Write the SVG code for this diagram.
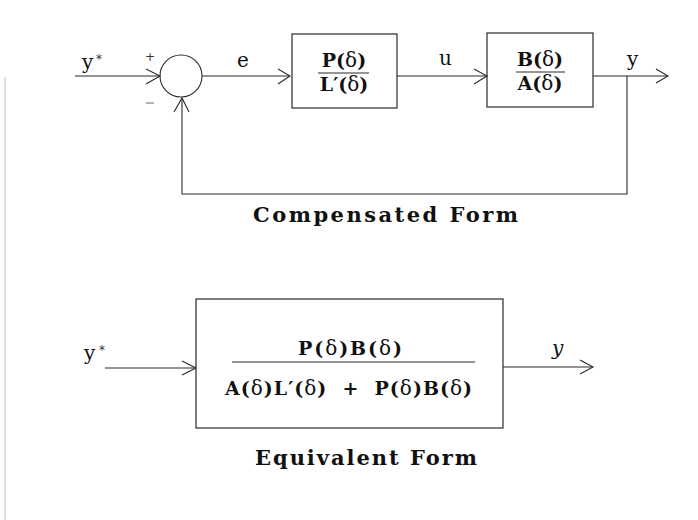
<svg xmlns="http://www.w3.org/2000/svg" width="698" height="520" viewBox="0 0 698 520">
<style>
.ln{fill:none;stroke:#2a2a2a;stroke-width:1.1}
.ah{fill:none;stroke:#2a2a2a;stroke-width:1.1;stroke-linejoin:miter}
.box{fill:none;stroke:#2a2a2a;stroke-width:1.2}
.m{font-family:"DejaVu Serif","Liberation Serif",serif;font-weight:bold;font-size:19px;fill:#111}
.d{font-weight:normal;font-size:20px}
.lab{font-family:"DejaVu Serif","Liberation Serif",serif;font-size:20px;fill:#111}
.cap{font-family:"DejaVu Serif","Liberation Serif",serif;font-weight:bold;font-size:21px;fill:#111}
.sm{font-family:"DejaVu Sans","Liberation Sans",sans-serif;font-size:12px;fill:#333}
</style>
<rect width="698" height="520" fill="#fff"/>
<line x1="5" y1="77" x2="5" y2="520" stroke="#c8c8c8" stroke-width="1.2"/>

<g id="connectors">
  <polyline class="ln" points="75,76 160,76"/>
  <polyline class="ah" points="146,69 160,76 146,84"/>
  <polyline class="ln" points="202,76 290,76"/>
  <polyline class="ah" points="278,69 290,76 278,84"/>
  <polyline class="ln" points="397,76 487,76"/>
  <polyline class="ah" points="474,69 487,76 474,84"/>
  <polyline class="ln" points="593,76 668,76"/>
  <polyline class="ah" points="656,69 668,76 656,83"/>
  <polyline class="ln" points="627,76 627,194 182,194 182,98"/>
  <polyline class="ah" points="174,112 182,98 189,112"/>
  <polyline class="ln" points="105,368 196,368"/>
  <polyline class="ah" points="182,361 196,368 182,375"/>
  <polyline class="ln" points="503,367 593,367"/>
  <polyline class="ah" points="580,360 593,367 580,374"/>
</g>

<g id="labels">
  <text class="lab" x="82" y="69">y</text>
  <text class="sm" x="96" y="63" font-size="14">*</text>
  <text class="sm" x="145" y="61">+</text>
  <line x1="146" y1="103" x2="154" y2="103" stroke="#666" stroke-width="1"/>
  <text class="lab" x="237" y="67">e</text>
  <text class="lab" x="439" y="65">u</text>
  <text class="lab" x="627" y="66">y</text>
  <text class="lab" x="84" y="360">y</text>
  <text class="sm" x="99" y="354" font-size="14">*</text>
  <text class="lab" x="552" y="355" font-style="italic">y</text>
</g>

<g id="sum">
  <circle cx="181" cy="76" r="21" class="ln"/>
</g>

<g id="controller">
  <rect class="box" x="292" y="34" width="105" height="74"/>
  <text class="m" x="344" y="67" text-anchor="middle">P(<tspan class="d">δ</tspan>)</text>
  <line class="ln" x1="318" y1="73" x2="369" y2="73"/>
  <text class="m" x="344" y="91" text-anchor="middle">L′(<tspan class="d">δ</tspan>)</text>
</g>

<g id="plant">
  <rect class="box" x="487" y="33" width="106" height="74"/>
  <text class="m" x="540" y="66" text-anchor="middle">B(<tspan class="d">δ</tspan>)</text>
  <line class="ln" x1="516" y1="72" x2="565" y2="72"/>
  <text class="m" x="540" y="90" text-anchor="middle">A(<tspan class="d">δ</tspan>)</text>
</g>

<text class="cap" x="253" y="222" textLength="265" lengthAdjust="spacing">Compensated Form</text>

<g id="equivalent">
  <rect class="box" x="196" y="299" width="307" height="129"/>
  <text class="m" x="298" y="355" textLength="104" lengthAdjust="spacing">P(<tspan class="d">δ</tspan>)B(<tspan class="d">δ</tspan>)</text>
  <line class="ln" x1="232" y1="362" x2="475" y2="362"/>
  <text class="m" x="225" y="395" textLength="247" lengthAdjust="spacing" style="white-space:pre">A(<tspan class="d">δ</tspan>)L′(<tspan class="d">δ</tspan>)  +  P(<tspan class="d">δ</tspan>)B(<tspan class="d">δ</tspan>)</text>
</g>

<text class="cap" x="255" y="465" textLength="222" lengthAdjust="spacing">Equivalent Form</text>
</svg>
